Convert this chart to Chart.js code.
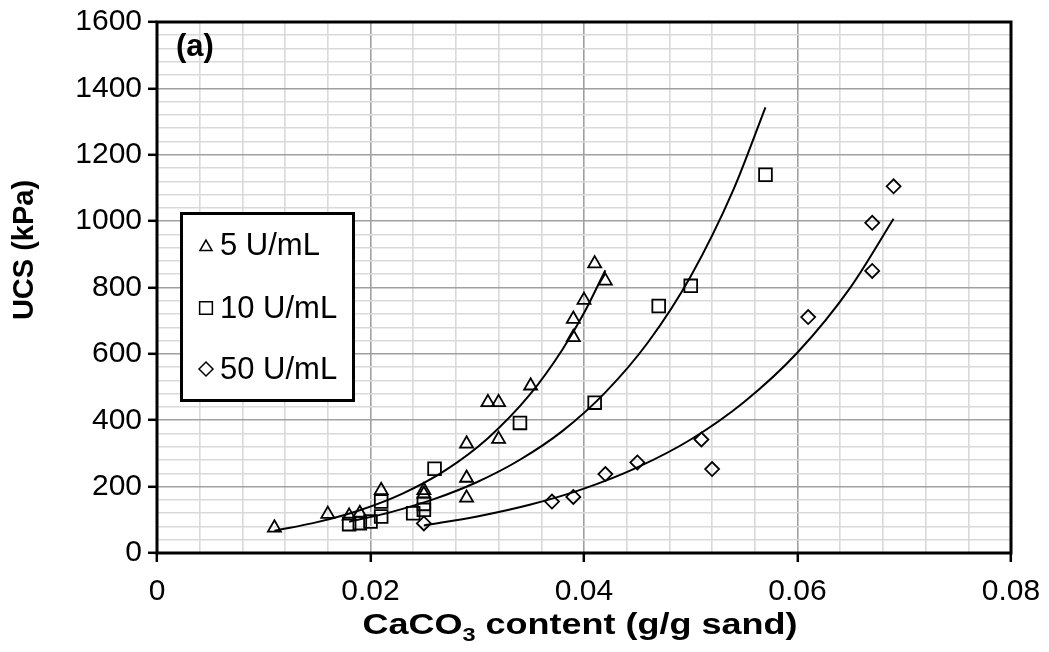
<!DOCTYPE html>
<html>
<head>
<meta charset="utf-8">
<title>UCS vs CaCO3 content</title>
<script src="https://cdn.jsdelivr.net/npm/chart.js@4.4.1/dist/chart.umd.min.js"></script>
<style>
html,body{margin:0;padding:0;background:#fff;}
#wrap{width:1049px;height:652px;}
</style>
</head>
<body>
<div id="wrap"><canvas id="ucsChart" width="1049" height="652"></canvas></div>
<script>

// ======================================================
// DATA
// ======================================================

const seriesLabels = ["5 U/mL", "10 U/mL", "50 U/mL"];

// 5 U/mL  (triangles)
const u5X = [0.011, 0.016, 0.018, 0.019, 0.021, 0.025, 0.025, 0.029, 0.029, 0.029,
             0.031, 0.032, 0.032, 0.035, 0.039, 0.039, 0.040, 0.041, 0.042];
const u5Y = [76, 117, 112, 120, 189, 189, 178, 329, 226, 166,
             454, 454, 343, 504, 650, 705, 762, 872, 820];

// 10 U/mL (squares)
const u10X = [0.018, 0.019, 0.020, 0.021, 0.021, 0.024, 0.025, 0.025, 0.026, 0.034,
              0.041, 0.047, 0.050, 0.057];
const u10Y = [87, 90, 95, 110, 155, 120, 130, 148, 254, 392,
              453, 744, 805, 1140];

// 50 U/mL (diamonds)
const u50X = [0.025, 0.037, 0.039, 0.042, 0.045, 0.051, 0.052, 0.061, 0.067, 0.067, 0.069];
const u50Y = [89, 155, 169, 238, 273, 342, 253, 711, 850, 995, 1105];

// trend curves, points
const fit5X  = [0.011, 0.015, 0.019, 0.023, 0.027, 0.031, 0.035, 0.038, 0.040, 0.042];
const fit5Y  = [67, 93, 129, 179, 249, 346, 480, 614, 723, 852];

const fit10X = [0.018, 0.022, 0.026, 0.030, 0.034, 0.038, 0.042, 0.046, 0.050, 0.054, 0.057];
const fit10Y = [94, 124, 163, 214, 281, 368, 484, 635, 834, 1095, 1343];

const fit50X = [0.025, 0.030, 0.035, 0.040, 0.045, 0.050, 0.055, 0.060, 0.065, 0.069];
const fit50Y = [83, 110, 146, 194, 258, 342, 455, 604, 802, 1007];

// axes
const xTickValues = [0, 0.02, 0.04, 0.06, 0.08];
const xTickLabels = ["0", "0.02", "0.04", "0.06", "0.08"];
const yTickValues = [0, 200, 400, 600, 800, 1000, 1200, 1400, 1600];
const yTickLabels = ["0", "200", "400", "600", "800", "1000", "1200", "1400", "1600"];

const xTitleParts = ["CaCO", "3", " content (g/g sand)"];
const yTitle = "UCS (kPa)";
const panelLabel = "(a)";

// ======================================================
// HELPERS
// ======================================================

const FONT = "'Liberation Sans', Arial, Helvetica, sans-serif";

function toPoints(xs, ys){

    return xs.map((x, i) => ({x: x, y: ys[i]}));

}

// major ticks plus 4 minor ticks between each pair
function buildTicks(values, labels){

    const ticks = [];

    values.forEach((v, i) => {

        ticks.push({value: v, isMajor: true, text: labels[i]});

        if(i < values.length - 1){

            const step = (values[i + 1] - v) / 5;

            for(let k = 1; k < 5; k++){
                ticks.push({value: v + k * step, isMajor: false, text: ""});
            }

        }

    });

    return ticks;

}

function isMajor(ctx){

    return ctx.tick && ctx.tick.isMajor;

}

function drawMarker(ctx, style, x, y, r){

    ctx.beginPath();

    if(style === "triangle"){

        ctx.moveTo(x, y - r);
        ctx.lineTo(x + r * Math.sin(2 * Math.PI / 3), y + r / 2);
        ctx.lineTo(x - r * Math.sin(2 * Math.PI / 3), y + r / 2);
        ctx.closePath();

    }else if(style === "rect"){

        const s = Math.SQRT1_2 * r;
        ctx.rect(x - s, y - s, 2 * s, 2 * s);

    }else{

        ctx.moveTo(x - r, y);
        ctx.lineTo(x, y - r);
        ctx.lineTo(x + r, y);
        ctx.lineTo(x, y + r);
        ctx.closePath();

    }

    ctx.stroke();

}

// ======================================================
// PLUGINS: frame, titles, legend box, panel label
// ======================================================

const decorPlugin = {

    id: "decor",

    afterDraw(chart){

        const ctx = chart.ctx;
        const a = chart.chartArea;

        ctx.save();

        // plot frame
        ctx.strokeStyle = "#000";
        ctx.lineWidth = 3;
        ctx.strokeRect(a.left, a.top, a.right - a.left, a.bottom - a.top);

        // y title
        ctx.fillStyle = "#000";
        ctx.font = "bold 29px " + FONT;
        ctx.textAlign = "center";
        ctx.textBaseline = "middle";
        ctx.save();
        ctx.translate(25, 250);
        ctx.rotate(-Math.PI / 2);
        ctx.fillText(yTitle, 0, 0);
        ctx.restore();

        // x title with subscript, stretched to the width seen in the figure
        const bigFont = "bold 29px " + FONT;
        const subFont = "bold 19px " + FONT;
        ctx.textAlign = "left";
        ctx.textBaseline = "alphabetic";
        ctx.font = bigFont;
        const w0 = ctx.measureText(xTitleParts[0]).width;
        const w2 = ctx.measureText(xTitleParts[2]).width;
        ctx.font = subFont;
        const w1 = ctx.measureText(xTitleParts[1]).width;
        const total = w0 + w1 + w2;
        const sx = 435 / total;
        ctx.save();
        ctx.translate(580 - 435 / 2, 634);
        ctx.scale(sx, 1);
        let tx = 0;
        ctx.font = bigFont;
        ctx.fillText(xTitleParts[0], tx, 0);
        tx += w0;
        ctx.font = subFont;
        ctx.fillText(xTitleParts[1], tx, 7);
        tx += w1;
        ctx.font = bigFont;
        ctx.fillText(xTitleParts[2], tx, 0);
        ctx.restore();

        // panel label
        ctx.font = "bold 31px " + FONT;
        ctx.fillText(panelLabel, 176, 56);

        // legend box
        ctx.fillStyle = "#fff";
        ctx.fillRect(181, 213, 173, 188);
        ctx.strokeStyle = "#000";
        ctx.lineWidth = 3;
        ctx.strokeRect(181.5, 213.5, 172, 187);

        const styles = ["triangle", "rect", "rectRot"];
        const radii = [7, 9, 7];
        const rowY = [245, 308, 369];

        ctx.lineWidth = 1.5;
        ctx.font = "31px " + FONT;
        ctx.textBaseline = "middle";
        ctx.fillStyle = "#000";

        seriesLabels.forEach((label, i) => {

            drawMarker(ctx, styles[i], 206, rowY[i] + (i === 0 ? 2 : 0), radii[i]);
            ctx.fillText(label, 220, rowY[i] + 1);

        });

        ctx.restore();

    }

};

// ======================================================
// CHART
// ======================================================

function scatterSet(label, xs, ys, style, radius){

    return {
        label: label,
        data: toPoints(xs, ys),
        showLine: false,
        pointStyle: style,
        pointRadius: radius,
        pointHoverRadius: radius,
        pointBorderColor: "#000",
        pointBackgroundColor: "rgba(0,0,0,0)",
        pointBorderWidth: 1.8
    };

}

function curveSet(label, xs, ys){

    return {
        label: label,
        data: toPoints(xs, ys),
        showLine: true,
        pointRadius: 0,
        borderColor: "#000",
        borderWidth: 2,
        cubicInterpolationMode: "monotone",
        fill: false
    };

}

const gridOptions = {
    color: ctx => isMajor(ctx) ? "#a0a0a0" : "#d9d9d9",
    lineWidth: 1.6,
    tickColor: ctx => isMajor(ctx) ? "#000" : "rgba(0,0,0,0)",
    tickWidth: 2.5,
    tickLength: 9
};

const canvas = document.getElementById("ucsChart");

new Chart(canvas, {

    type: "scatter",

    plugins: [decorPlugin],

    data: {

        datasets: [
            curveSet("fit 5", fit5X, fit5Y),
            curveSet("fit 10", fit10X, fit10Y),
            curveSet("fit 50", fit50X, fit50Y),
            scatterSet(seriesLabels[0], u5X, u5Y, "triangle", 7.5),
            scatterSet(seriesLabels[1], u10X, u10Y, "rect", 9),
            scatterSet(seriesLabels[2], u50X, u50Y, "rectRot", 7)
        ]

    },

    options: {

        responsive: false,
        animation: false,
        devicePixelRatio: 1,

        layout: {
            padding: {left: 0, top: 22, right: 38, bottom: 0}
        },

        plugins: {
            legend: {display: false},
            tooltip: {enabled: false}
        },

        scales: {

            x: {

                type: "linear",
                min: 0,
                max: 0.08,

                afterBuildTicks: scale => {
                    scale.ticks = buildTicks(xTickValues, xTickLabels);
                },

                afterFit: scale => {
                    scale.height = 99;
                    scale.paddingLeft = 0;
                    scale.paddingRight = 0;
                },

                border: {display: false},

                grid: gridOptions,

                ticks: {
                    autoSkip: false,
                    maxRotation: 0,
                    padding: 12,
                    color: "#000",
                    font: {family: FONT, size: 30},
                    callback: (value, index, ticks) => ticks[index].text
                }

            },

            y: {

                type: "linear",
                min: 0,
                max: 1600,

                afterBuildTicks: scale => {
                    scale.ticks = buildTicks(yTickValues, yTickLabels);
                },

                afterFit: scale => {
                    scale.width = 157;
                    scale.paddingTop = 0;
                    scale.paddingBottom = 0;
                },

                border: {display: false},

                grid: gridOptions,

                ticks: {
                    autoSkip: false,
                    padding: 6,
                    color: "#000",
                    font: {family: FONT, size: 30},
                    callback: (value, index, ticks) => ticks[index].text
                }

            }

        }

    }

});

</script>
</body>
</html>
